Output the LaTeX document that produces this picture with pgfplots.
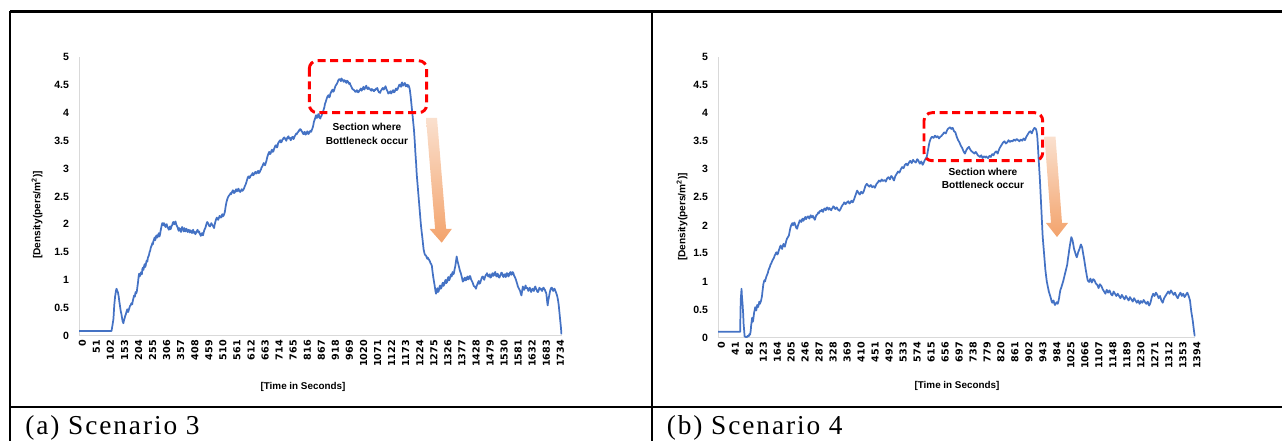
\documentclass[border=0pt]{standalone}
\usepackage{fontspec}
\setmainfont{Liberation Sans}
\newfontfamily\capfont[LetterSpace=7]{Liberation Serif}
\newfontfamily\tickfont{DejaVu Sans}
\usepackage{pgfplots}
\pgfplotsset{compat=1.18}
\definecolor{xlblue}{RGB}{68,114,196}
\definecolor{axgray}{RGB}{217,217,217}
\definecolor{arrtop}{RGB}{250,224,206}
\definecolor{arrbot}{RGB}{243,163,108}

\pgfplotstableread{
t v
0 0.08
118 0.08
122 0.20
125 0.30
128 0.55
131 0.70
134 0.80
136 0.84
139 0.80
141 0.78
144 0.70
146 0.62
149 0.52
151 0.45
154 0.38
156 0.32
158 0.26
161 0.22
163 0.27
165 0.30
168 0.36
170 0.38
173 0.44
175 0.47
178 0.42
180 0.45
183 0.50
185 0.53
188 0.55
190 0.58
193 0.56
195 0.62
198 0.68
200 0.72
203 0.70
205 0.78
208 0.76
210 0.80
212 0.88
214 0.95
216 1.05
218 1.11
220 1.06
222 1.08
224 1.12
226 1.14
228 1.10
230 1.20
232 1.22
234 1.18
236 1.24
238 1.28
240 1.23
242 1.26
244 1.32
246 1.35
248 1.33
250 1.40
252 1.42
254 1.45
256 1.50
258 1.52
260 1.57
262 1.60
264 1.62
266 1.66
268 1.64
270 1.70
272 1.72
274 1.76
276 1.71
278 1.74
280 1.79
282 1.80
284 1.76
286 1.78
288 1.82
290 1.84
292 1.78
294 1.82
296 1.88
298 1.93
300 1.98
302 2.02
304 2.00
306 1.98
308 2.02
310 2.00
312 1.97
314 1.95
316 1.99
318 2.00
320 1.96
322 1.94
324 1.92
326 1.90
328 1.94
330 1.96
332 1.91
334 1.93
336 1.97
338 1.98
340 2.02
342 2.04
344 2.01
346 2.00
348 2.03
350 2.05
352 2.01
354 1.98
356 1.96
358 1.94
360 1.90
362 1.88
364 1.93
366 1.92
368 1.89
370 1.86
372 1.91
374 1.95
376 1.92
378 1.90
380 1.87
382 1.93
384 1.90
386 1.87
388 1.89
390 1.92
392 1.88
394 1.86
396 1.89
398 1.90
400 1.87
402 1.85
404 1.89
406 1.88
408 1.86
410 1.84
412 1.87
414 1.90
416 1.86
418 1.84
420 1.86
422 1.82
424 1.84
426 1.86
428 1.88
430 1.90
432 1.87
434 1.85
436 1.87
438 1.83
440 1.81
442 1.79
444 1.82
446 1.84
448 1.81
450 1.80
452 1.85
455 1.90
458 1.93
460 1.96
462 2.00
465 2.04
468 2.02
470 2.00
472 1.97
475 1.96
478 1.99
480 2.02
482 2.00
485 1.98
488 1.95
490 1.93
492 1.99
495 2.05
498 2.10
500 2.12
502 2.09
505 2.08
508 2.12
510 2.15
512 2.13
515 2.12
518 2.16
520 2.18
522 2.14
525 2.16
528 2.20
530 2.25
532 2.32
535 2.40
538 2.45
540 2.48
542 2.50
545 2.52
548 2.54
550 2.56
552 2.54
555 2.58
558 2.61
560 2.60
562 2.56
565 2.57
568 2.61
570 2.63
572 2.59
575 2.60
578 2.64
580 2.62
582 2.59
585 2.58
588 2.61
590 2.63
592 2.60
595 2.61
598 2.64
600 2.66
602 2.69
605 2.72
608 2.77
610 2.80
612 2.84
615 2.86
618 2.83
620 2.84
622 2.87
625 2.88
628 2.90
630 2.92
632 2.88
635 2.90
638 2.93
640 2.94
642 2.91
645 2.92
648 2.95
650 2.96
652 2.92
655 2.93
658 2.97
660 2.98
662 3.02
665 3.04
668 3.08
670 3.10
672 3.07
675 3.06
678 3.11
680 3.14
682 3.19
685 3.24
688 3.28
690 3.30
692 3.26
695 3.27
698 3.32
700 3.34
702 3.30
705 3.31
708 3.36
710 3.38
712 3.41
715 3.42
718 3.38
720 3.40
722 3.45
725 3.48
728 3.50
730 3.51
732 3.47
735 3.48
738 3.52
740 3.53
742 3.55
745 3.56
748 3.53
750 3.52
752 3.50
755 3.55
758 3.57
760 3.58
762 3.54
765 3.55
768 3.51
770 3.53
772 3.56
775 3.57
778 3.53
780 3.55
782 3.58
785 3.60
788 3.63
790 3.62
792 3.64
795 3.66
798 3.69
800 3.68
802 3.71
805 3.70
808 3.67
810 3.66
812 3.63
815 3.62
818 3.66
820 3.65
822 3.61
825 3.63
828 3.67
830 3.66
832 3.62
835 3.64
838 3.67
840 3.68
842 3.66
845 3.70
848 3.74
850 3.78
852 3.84
855 3.88
858 3.93
860 3.96
862 3.91
865 3.92
868 3.98
870 3.97
872 3.92
875 3.90
878 3.94
880 3.95
882 3.99
885 4.02
888 4.07
890 4.10
892 4.16
895 4.20
898 4.25
900 4.28
902 4.30
905 4.32
908 4.28
910 4.30
912 4.35
915 4.38
918 4.41
920 4.42
922 4.38
925 4.40
928 4.45
930 4.48
932 4.50
935 4.52
938 4.55
940 4.58
942 4.60
945 4.61
948 4.59
950 4.57
952 4.62
955 4.60
958 4.58
960 4.56
962 4.59
965 4.58
968 4.55
970 4.54
972 4.58
975 4.57
978 4.54
980 4.52
982 4.54
985 4.50
988 4.47
990 4.45
992 4.43
995 4.42
998 4.41
1000 4.40
1002 4.38
1005 4.38
1008 4.41
1010 4.40
1012 4.37
1015 4.38
1018 4.41
1020 4.42
1022 4.44
1025 4.40
1028 4.43
1030 4.45
1032 4.47
1035 4.42
1038 4.45
1040 4.47
1042 4.49
1045 4.44
1048 4.43
1050 4.46
1052 4.44
1055 4.43
1058 4.41
1060 4.40
1062 4.43
1065 4.42
1068 4.40
1070 4.39
1072 4.42
1075 4.41
1078 4.44
1080 4.43
1082 4.45
1085 4.40
1088 4.37
1090 4.38
1092 4.36
1095 4.40
1098 4.42
1100 4.44
1102 4.45
1105 4.42
1108 4.44
1110 4.46
1112 4.48
1115 4.43
1118 4.40
1120 4.38
1122 4.35
1125 4.36
1128 4.38
1130 4.39
1132 4.35
1135 4.37
1138 4.40
1140 4.41
1142 4.37
1145 4.38
1148 4.42
1150 4.44
1152 4.41
1155 4.42
1158 4.46
1160 4.48
1162 4.51
1165 4.50
1168 4.47
1170 4.53
1172 4.55
1175 4.49
1178 4.51
1180 4.52
1182 4.54
1185 4.48
1188 4.50
1190 4.51
1192 4.47
1195 4.50
1198 4.46
1200 4.42
1203 4.30
1205 4.20
1208 4.05
1210 3.95
1213 3.80
1215 3.70
1218 3.48
1220 3.30
1223 3.08
1225 2.90
1228 2.72
1230 2.60
1233 2.42
1235 2.30
1238 2.12
1240 2.00
1243 1.86
1245 1.78
1248 1.64
1250 1.55
1253 1.48
1255 1.45
1258 1.44
1260 1.42
1263 1.38
1265 1.40
1268 1.37
1270 1.36
1273 1.33
1275 1.30
1278 1.28
1280 1.25
1282 1.16
1285 1.05
1288 0.96
1290 0.90
1293 0.80
1295 0.75
1298 0.82
1300 0.85
1302 0.78
1305 0.80
1308 0.88
1310 0.90
1312 0.84
1315 0.86
1318 0.93
1320 0.95
1322 0.89
1325 0.92
1328 0.98
1330 1.00
1332 0.94
1335 0.96
1338 1.03
1340 1.05
1342 0.99
1345 1.02
1348 1.08
1350 1.10
1352 1.06
1355 1.14
1358 1.10
1360 1.12
1362 1.18
1365 1.25
1368 1.35
1370 1.42
1372 1.36
1375 1.30
1378 1.24
1380 1.20
1382 1.16
1385 1.12
1388 1.06
1390 1.02
1392 0.97
1395 0.98
1398 1.03
1400 1.04
1402 0.99
1405 1.00
1408 1.05
1410 1.06
1412 1.01
1415 1.02
1418 1.07
1420 1.05
1422 1.01
1425 0.98
1428 0.95
1430 0.92
1432 0.89
1435 0.88
1438 0.86
1440 0.84
1442 0.88
1445 0.92
1448 0.96
1450 0.98
1452 0.93
1455 0.94
1458 0.99
1460 1.02
1462 1.05
1465 1.06
1468 1.02
1470 1.00
1472 1.04
1475 1.08
1478 1.10
1480 1.12
1482 1.08
1485 1.06
1488 1.09
1490 1.10
1492 1.04
1495 1.05
1498 1.10
1500 1.12
1502 1.07
1505 1.08
1508 1.13
1510 1.14
1512 1.08
1515 1.06
1518 1.11
1520 1.10
1522 1.05
1525 1.04
1528 1.08
1530 1.09
1532 1.13
1535 1.12
1538 1.06
1540 1.05
1542 1.09
1545 1.10
1548 1.05
1550 1.07
1552 1.12
1555 1.11
1558 1.06
1560 1.08
1562 1.12
1565 1.14
1568 1.09
1570 1.10
1572 1.14
1575 1.13
1578 1.08
1580 1.06
1582 1.04
1585 1.00
1588 0.95
1590 0.92
1592 0.88
1595 0.85
1598 0.82
1600 0.80
1602 0.76
1605 0.72
1608 0.82
1610 0.88
1612 0.84
1615 0.82
1618 0.87
1620 0.90
1622 0.85
1625 0.86
1628 0.83
1630 0.80
1632 0.83
1635 0.86
1638 0.81
1640 0.78
1642 0.82
1645 0.84
1648 0.81
1650 0.80
1652 0.85
1655 0.88
1658 0.84
1660 0.82
1662 0.79
1665 0.78
1668 0.82
1670 0.86
1672 0.83
1675 0.84
1678 0.81
1680 0.80
1682 0.84
1685 0.86
1688 0.83
1690 0.82
1692 0.79
1695 0.76
1698 0.62
1700 0.54
1702 0.62
1705 0.70
1708 0.78
1710 0.82
1712 0.85
1715 0.86
1718 0.82
1720 0.80
1722 0.83
1725 0.84
1728 0.80
1730 0.78
1732 0.75
1735 0.70
1738 0.62
1740 0.55
1742 0.45
1745 0.30
1748 0.15
1750 0.02
}\scenthree

\pgfplotstableread{
t v
0 0.10
65 0.10
66 0.50
67 0.70
69 0.87
70 0.75
72 0.60
74 0.40
75 0.25
77 0.10
78 0.02
81 0.01
84 0.00
87 0.03
90 0.02
92 0.06
94 0.05
96 0.12
97 0.20
99 0.30
100 0.35
102 0.28
103 0.30
105 0.40
106 0.45
108 0.50
109 0.54
111 0.50
112 0.48
114 0.55
115 0.58
117 0.54
118 0.55
120 0.60
121 0.64
123 0.60
124 0.62
126 0.65
127 0.68
129 0.74
130 0.80
132 0.90
133 0.95
135 1.00
136 1.02
138 1.00
140 1.05
142 1.09
144 1.12
146 1.15
148 1.20
150 1.23
152 1.26
154 1.30
156 1.32
158 1.35
160 1.38
162 1.40
164 1.42
166 1.46
168 1.48
170 1.51
172 1.52
174 1.48
176 1.50
178 1.55
180 1.58
182 1.62
184 1.64
186 1.60
188 1.58
190 1.63
192 1.67
194 1.64
196 1.62
198 1.67
200 1.72
202 1.76
204 1.78
206 1.80
208 1.82
210 1.89
212 1.95
214 1.99
216 2.02
218 2.04
220 2.00
222 2.03
224 2.05
226 2.02
228 1.98
230 1.95
232 1.94
234 1.99
236 2.02
238 2.06
240 2.09
242 2.08
244 2.06
246 2.10
248 2.12
250 2.08
252 2.10
254 2.13
256 2.15
258 2.11
260 2.13
262 2.15
264 2.16
266 2.14
268 2.12
270 2.16
272 2.18
274 2.15
276 2.14
278 2.17
280 2.15
282 2.12
284 2.10
286 2.14
288 2.18
290 2.19
292 2.20
294 2.23
296 2.22
298 2.25
300 2.26
302 2.25
304 2.28
306 2.26
308 2.24
310 2.28
312 2.30
314 2.29
316 2.27
318 2.31
320 2.32
322 2.30
324 2.28
326 2.31
328 2.30
330 2.28
332 2.27
334 2.30
336 2.31
338 2.34
340 2.33
342 2.31
344 2.29
346 2.31
348 2.32
350 2.30
352 2.28
354 2.27
356 2.26
358 2.28
360 2.30
362 2.33
364 2.35
366 2.37
368 2.38
370 2.41
372 2.40
374 2.38
376 2.39
378 2.41
380 2.42
382 2.43
384 2.40
386 2.39
388 2.41
390 2.43
392 2.44
394 2.41
396 2.42
398 2.45
400 2.48
402 2.52
404 2.55
406 2.59
408 2.62
410 2.60
412 2.58
414 2.56
416 2.55
418 2.58
420 2.60
422 2.58
424 2.57
426 2.59
428 2.62
430 2.66
432 2.70
434 2.72
436 2.74
438 2.73
440 2.71
442 2.70
444 2.69
446 2.71
448 2.72
450 2.70
452 2.68
454 2.69
456 2.70
458 2.69
460 2.67
462 2.70
464 2.73
466 2.75
468 2.76
470 2.78
472 2.80
474 2.79
476 2.78
478 2.80
480 2.82
482 2.80
484 2.79
486 2.80
488 2.81
490 2.80
492 2.78
494 2.81
496 2.84
498 2.85
500 2.86
502 2.84
504 2.82
506 2.85
508 2.88
510 2.87
512 2.85
514 2.82
516 2.80
518 2.84
520 2.88
522 2.90
524 2.92
526 2.94
528 2.96
530 2.95
532 2.94
534 2.97
536 3.00
538 3.02
540 3.04
542 3.03
544 3.02
546 3.05
548 3.08
550 3.09
552 3.10
554 3.08
556 3.07
558 3.10
560 3.12
562 3.14
564 3.15
566 3.13
568 3.11
570 3.14
572 3.17
574 3.15
576 3.14
578 3.13
580 3.12
582 3.15
584 3.18
586 3.17
588 3.15
590 3.12
592 3.10
594 3.12
596 3.14
598 3.11
600 3.08
602 3.10
604 3.13
606 3.16
608 3.18
610 3.20
612 3.22
614 3.28
616 3.35
618 3.42
620 3.48
622 3.52
624 3.55
626 3.57
628 3.58
630 3.57
632 3.56
634 3.58
636 3.60
638 3.59
640 3.57
642 3.58
644 3.59
646 3.57
648 3.55
650 3.57
652 3.58
654 3.59
656 3.60
658 3.62
660 3.63
662 3.65
664 3.66
666 3.65
668 3.64
670 3.67
672 3.70
674 3.72
676 3.73
678 3.74
680 3.75
682 3.74
684 3.72
686 3.73
688 3.74
690 3.71
692 3.68
694 3.67
696 3.66
698 3.62
700 3.58
702 3.55
704 3.52
706 3.50
708 3.48
710 3.45
712 3.42
714 3.40
716 3.38
718 3.35
720 3.32
722 3.30
724 3.28
726 3.31
728 3.34
730 3.36
732 3.38
734 3.39
736 3.40
738 3.37
740 3.35
742 3.33
744 3.32
746 3.31
748 3.30
750 3.29
752 3.28
754 3.30
756 3.31
758 3.29
760 3.27
762 3.25
764 3.24
766 3.23
768 3.22
770 3.24
772 3.25
774 3.22
776 3.20
778 3.22
780 3.23
782 3.22
784 3.21
786 3.23
788 3.22
790 3.21
792 3.20
794 3.22
796 3.24
798 3.23
800 3.22
802 3.25
804 3.27
806 3.26
808 3.25
810 3.28
812 3.30
814 3.31
816 3.32
818 3.30
820 3.28
822 3.32
824 3.35
826 3.38
828 3.40
830 3.42
832 3.44
834 3.46
836 3.48
838 3.49
840 3.50
842 3.48
844 3.46
846 3.47
848 3.48
850 3.50
852 3.52
854 3.50
856 3.49
858 3.50
860 3.51
862 3.50
864 3.50
866 3.52
868 3.53
870 3.52
872 3.51
874 3.53
876 3.54
878 3.53
880 3.52
882 3.51
884 3.50
886 3.52
888 3.53
890 3.52
892 3.51
894 3.53
896 3.55
898 3.54
900 3.52
902 3.55
904 3.58
906 3.60
908 3.62
910 3.64
912 3.66
914 3.67
916 3.68
918 3.66
920 3.64
922 3.67
924 3.70
926 3.72
928 3.74
930 3.73
932 3.72
934 3.68
936 3.60
938 3.42
940 3.20
942 3.00
944 2.80
946 2.55
948 2.30
950 2.05
952 1.80
954 1.65
956 1.50
958 1.35
960 1.20
962 1.10
964 1.00
966 0.94
968 0.88
970 0.82
972 0.78
974 0.74
976 0.70
978 0.65
980 0.62
982 0.64
984 0.66
986 0.61
988 0.58
990 0.60
992 0.62
994 0.63
996 0.60
998 0.64
1000 0.70
1002 0.78
1004 0.85
1006 0.88
1008 0.92
1010 0.96
1012 1.00
1014 1.05
1016 1.10
1018 1.15
1020 1.20
1022 1.25
1024 1.30
1026 1.40
1028 1.48
1030 1.57
1032 1.65
1034 1.72
1036 1.79
1038 1.76
1040 1.72
1042 1.65
1044 1.58
1046 1.54
1048 1.50
1050 1.46
1052 1.43
1054 1.47
1056 1.52
1058 1.55
1060 1.58
1062 1.62
1064 1.66
1066 1.63
1068 1.60
1070 1.52
1072 1.45
1074 1.38
1076 1.30
1078 1.22
1080 1.15
1082 1.08
1084 1.02
1086 1.00
1088 0.99
1090 1.02
1092 1.05
1094 1.01
1096 0.98
1098 1.01
1100 1.04
1102 1.03
1104 1.02
1106 0.99
1108 0.96
1110 0.95
1112 0.94
1114 0.91
1116 0.88
1118 0.92
1120 0.95
1122 0.93
1124 0.92
1126 0.89
1128 0.86
1130 0.84
1132 0.82
1134 0.80
1136 0.78
1138 0.82
1140 0.85
1142 0.82
1144 0.80
1146 0.82
1148 0.84
1150 0.81
1152 0.78
1154 0.76
1156 0.75
1158 0.78
1160 0.82
1162 0.80
1164 0.78
1166 0.76
1168 0.74
1170 0.76
1172 0.78
1174 0.76
1176 0.74
1178 0.72
1180 0.70
1182 0.73
1184 0.76
1186 0.74
1188 0.72
1190 0.70
1192 0.68
1194 0.71
1196 0.74
1198 0.72
1200 0.70
1202 0.68
1204 0.66
1206 0.69
1208 0.72
1210 0.70
1212 0.68
1214 0.66
1216 0.64
1218 0.67
1220 0.70
1222 0.68
1224 0.66
1226 0.64
1228 0.62
1230 0.64
1232 0.66
1234 0.63
1236 0.60
1238 0.62
1240 0.65
1242 0.63
1244 0.62
1246 0.64
1248 0.67
1250 0.65
1252 0.63
1254 0.61
1256 0.60
1258 0.62
1260 0.64
1262 0.60
1264 0.57
1266 0.59
1268 0.62
1270 0.67
1272 0.72
1274 0.75
1276 0.78
1278 0.76
1280 0.74
1282 0.77
1284 0.80
1286 0.78
1288 0.76
1290 0.73
1292 0.70
1294 0.72
1296 0.74
1298 0.70
1300 0.66
1302 0.64
1304 0.62
1306 0.66
1308 0.70
1310 0.72
1312 0.74
1314 0.76
1316 0.78
1318 0.80
1320 0.82
1322 0.80
1324 0.78
1326 0.81
1328 0.84
1330 0.82
1332 0.80
1334 0.78
1336 0.76
1338 0.78
1340 0.80
1342 0.77
1344 0.74
1346 0.72
1348 0.70
1350 0.73
1352 0.76
1354 0.78
1356 0.80
1358 0.77
1360 0.74
1362 0.76
1364 0.78
1366 0.75
1368 0.72
1370 0.74
1372 0.76
1374 0.78
1376 0.80
1378 0.77
1380 0.74
1382 0.70
1384 0.66
1386 0.55
1388 0.45
1390 0.38
1392 0.30
1394 0.20
1396 0.10
1398 0.02
}\scenfour

\pgfplotsset{
  excelstyle/.style={
    scale only axis,
    ymin=0, ymax=5,
    axis x line=bottom, axis y line=left,
    axis line style={draw=axgray, line width=0.75pt, -},
    major tick length=0pt,
    ytick={0,0.5,...,5},
    yticklabels={0,0.5,1,1.5,2,2.5,3,3.5,4,4.5,5},
    yticklabel style={font=\bfseries\fontsize{7.9}{9}\selectfont, xshift=-4pt},
    xticklabel style={font=\tickfont\bfseries\fontsize{7.2}{8}\selectfont, rotate=90, anchor=east, yshift=-2.5pt},
  }
}

\begin{document}
\begin{tikzpicture}
\begin{scope}[x=0.75pt,y=-0.75pt]
\path[use as bounding box] (0,0) rectangle (1282,441);
% frame
\draw[line width=1.6pt] (10,11.5) -- (1282,11.5);
\draw[line width=1.6pt] (10,11.5) -- (10,441);
\draw[line width=1.6pt] (651.7,11.5) -- (651.7,441);
\draw[line width=1.6pt] (10,406.7) -- (1282,406.7);
% captions
\node[anchor=base west, inner sep=0pt, font=\capfont\fontsize{20.5}{22}\selectfont] at (25,435) {(a) Scenario 3};
\node[anchor=base west, inner sep=0pt, font=\capfont\fontsize{20.5}{22}\selectfont] at (666.5,435) {(b) Scenario 4};
% axis titles
\node[rotate=90, font=\bfseries\fontsize{7.6}{9}\selectfont] at (37,215) {[Density(pers/m\textsuperscript{2})]};
\node[rotate=90, font=\bfseries\fontsize{7.6}{9}\selectfont] at (682,217) {[Density(pers/m\textsuperscript{2})]};
\node[font=\bfseries\fontsize{7.4}{9}\selectfont] at (303,387) {[Time in Seconds]};
\node[font=\bfseries\fontsize{7.4}{9}\selectfont] at (957,386) {[Time in Seconds]};
\end{scope}

\begin{axis}[excelstyle,
  at={(59.25pt,-251.6pt)}, anchor=origin,
  width=362.25pt, height=208.6pt,
  xmin=0, xmax=1752,
  xtick={0,51,...,1734},
  xticklabels={0,51,102,153,204,255,306,357,408,459,510,561,612,663,714,765,816,867,918,969,1020,1071,1122,1173,1224,1275,1326,1377,1428,1479,1530,1581,1632,1683,1734},
]
\addplot[xlblue, line width=1.3pt, line join=round, no marks] table[x=t,y=v] {\scenthree};
\end{axis}

\begin{axis}[excelstyle,
  at={(538.5pt,-253.1pt)}, anchor=origin,
  width=358.1pt, height=210.2pt,
  xmin=0, xmax=1400,
  xtick={0,41,...,1394},
  xticklabels={0,41,82,123,164,205,246,287,328,369,410,451,492,533,574,615,656,697,738,779,820,861,902,943,984,1025,1066,1107,1148,1189,1230,1271,1312,1353,1394},
]
\addplot[xlblue, line width=1.3pt, line join=round, no marks] table[x=t,y=v] {\scenfour};
\end{axis}

\begin{scope}[x=0.75pt,y=-0.75pt]
% red dashed boxes
\draw[red, line width=2.2pt, dash pattern=on 6pt off 3.5pt, rounded corners=6pt] (309.3,60.7) rectangle (426.7,112.7);
\draw[red, line width=2.2pt, dash pattern=on 6pt off 3.5pt, rounded corners=6pt] (924,112.7) rectangle (1042.7,160.7);
% annotation texts
\node[align=center, font=\bfseries\fontsize{7.6}{10}\selectfont] at (367,134) {Section where\\Bottleneck occur};
\node[align=center, font=\bfseries\fontsize{7.6}{10}\selectfont] at (983,178.7) {Section where\\Bottleneck occur};
% arrows
\shade[top color=arrtop, bottom color=arrbot]
  (426,118) -- (437,118) -- (446.1,229) -- (451.8,229) -- (441.7,242.7) -- (429.6,229) -- (435.1,229) -- cycle;
\shade[top color=arrtop, bottom color=arrbot]
  (1044.5,136.7) -- (1055.5,136.7) -- (1062,223) -- (1068,223) -- (1057,237) -- (1046,223) -- (1051,223) -- cycle;
\end{scope}
\end{tikzpicture}
\end{document}
